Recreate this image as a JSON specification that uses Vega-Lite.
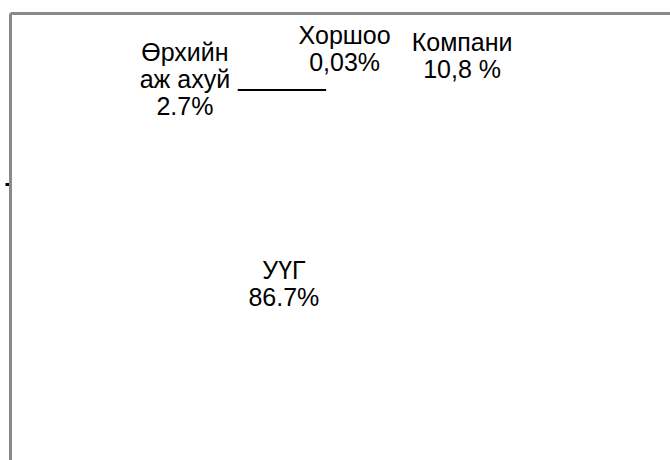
{
  "$schema": "https://vega.github.io/schema/vega-lite/v6.json",
  "autosize": {"type": "none"},
  "padding": {"left": 10, "top": 13, "right": 0, "bottom": 0},
  "width": 660,
  "height": 447,
  "background": "white",
  "config": {"view": {"stroke": null}, "font": "Liberation Sans"},
  "datasets": {
    "slices": [
      {"category": "Өрхийн аж ахуй", "share": 2.7, "label": "Өрхийн\nаж ахуй\n2.7%", "lx": 26.5, "ly": 89.3},
      {"category": "Хоршоо", "share": 0.03, "label": "Хоршоо\n0,03%", "lx": 50.7, "ly": 93.1},
      {"category": "Компани", "share": 10.8, "label": "Компани\n10,8 %", "lx": 68.5, "ly": 91.6},
      {"category": "УҮГ", "share": 86.7, "label": "УҮГ\n86.7%", "lx": 41.5, "ly": 40.6}
    ],
    "leader": [
      {"category": "Өрхийн аж ахуй", "x1": 34.5, "x2": 47.9, "y": 82.8}
    ]
  },
  "layer": [
    {
      "data": {"name": "slices"},
      "mark": {"type": "text", "fontSize": 25, "lineHeight": 27, "align": "center", "baseline": "alphabetic", "lineBreak": "\n", "color": "black"},
      "encoding": {
        "x": {"field": "lx", "type": "quantitative", "scale": {"domain": [0, 100]},
              "axis": {"orient": "top", "title": null, "labels": false, "ticks": false, "grid": false, "domainColor": "#8a8a8a", "domainWidth": 3}},
        "y": {"field": "ly", "type": "quantitative", "scale": {"domain": [0, 100]},
              "axis": {"orient": "left", "title": null, "labels": false, "grid": false, "values": [61.7], "ticks": true, "tickColor": "black", "tickSize": 5, "tickWidth": 3, "domainColor": "#8a8a8a", "domainWidth": 3}},
        "text": {"field": "label"}
      }
    },
    {
      "data": {"name": "leader"},
      "mark": {"type": "rule", "color": "black", "strokeWidth": 2},
      "encoding": {
        "x": {"field": "x1", "type": "quantitative"},
        "x2": {"field": "x2"},
        "y": {"field": "y", "type": "quantitative"}
      }
    }
  ]
}
